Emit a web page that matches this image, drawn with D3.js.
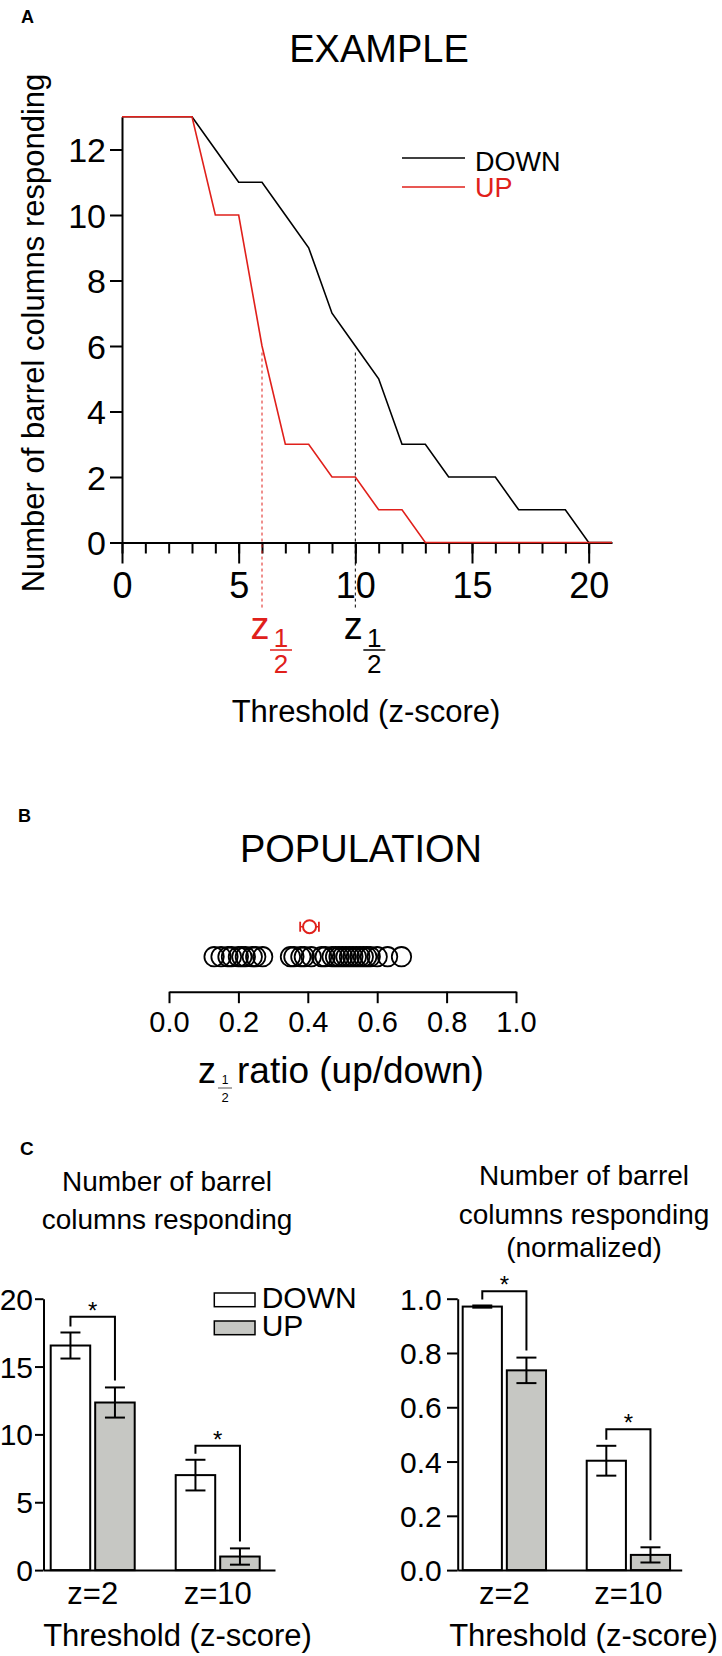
<!DOCTYPE html>
<html><head><meta charset="utf-8">
<script src="https://cdn.jsdelivr.net/npm/d3@7"></script>
<style>
body{margin:0;background:#fff}
text{font-family:"Liberation Sans",Arial,Helvetica,sans-serif}
</style>
</head><body>
<svg id="c" width="722" height="1656"></svg>
<script>
// ---------------- DATA ----------------
// Panel A: example barrel counts vs threshold
const exThreshold = [0,1,2,3,4,5,6,7,8,9,10,11,12,13,14,15,16,17,18,19,20,21];
const exDown = [13,13,13,13,12,11,11,10,9,7,6,5,3,3,2,2,2,1,1,1,0,0];
const exUp   = [13,13,13,13,10,10,6,3,3,2,2,1,1,0,0,0,0,0,0,0,0,0];
const exYTicks = [0,2,4,6,8,10,12];
const exXMinorTicks = [0,1,2,3,4,5,6,7,8,9,10,11,12,13,14,15,16,17,18,19,20];
const exXMajorTicks = [0,5,10,15,20];
const zHalfUp = 6, zHalfDown = 10, halfLevel = 6;
const exSeriesNames = ["DOWN","UP"];

// Panel B: population z1/2 ratio
const popRatios = [0.13,0.15,0.17,0.18,0.20,0.21,0.22,0.24,0.25,0.27,
                   0.35,0.36,0.38,0.39,0.41,0.44,0.45,0.47,0.48,0.49,0.50,
                   0.51,0.52,0.53,0.54,0.55,0.56,0.57,0.58,0.60,0.63,0.67];
const popMean = 0.405, popSem = 0.027;
const popTicks = [0,0.2,0.4,0.6,0.8,1.0];

// Panel C: bars
const thrCats = ["z=2","z=10"];
const barSeries = ["DOWN","UP"];
const countDown = [16.55, 7.0],  countDownErr = [0.96, 1.13];
const countUp   = [12.35, 1.0],  countUpErr   = [1.11, 0.6];
const countBracket = [18.67, 9.17];
const countTicks = [0,5,10,15,20];
const normDown = [0.971, 0.403], normDownErr = [0.004, 0.055];
const normUp   = [0.736, 0.056], normUpErr   = [0.047, 0.028];
const normBracket = [1.027, 0.519];
const normTicks = [0,0.2,0.4,0.6,0.8,1.0];

// ---------------- DRAW ----------------
const RED = "#e0201b", GRAY = "#c6c7c3";
const svg = d3.select("#c");

function styleAxis(g, fs){
  g.attr("font-family", null).attr("font-size", null);
  g.selectAll(".domain, .tick line").attr("stroke","#000").attr("stroke-width",2);
  g.selectAll("text").attr("fill","#000").style("font-size", fs+"px");
}
function label(g, x, y, txt, opts={}){
  const t = g.append("text").attr("x",x).attr("y",y)
    .attr("text-anchor", opts.anchor||"middle").style("font-size",(opts.fs||20)+"px")
    .attr("fill", opts.fill||"#000").text(txt);
  if (opts.bold) t.style("font-weight","bold");
  return t;
}

// ===== Panel A =====
const gA = svg.append("g");
const xA = d3.scaleLinear().domain([0,21]).range([122,612]);
const yA = d3.scaleLinear().domain([0,13]).range([542.5,116.75]);

label(gA, 21, 23, "A", {fs:18, bold:true, anchor:"start"});
label(gA, 379, 62, "EXAMPLE", {fs:38});

const yAxA = gA.append("g").attr("transform",`translate(${xA(0)},0)`)
  .call(d3.axisLeft(yA).tickValues(exYTicks).tickSize(12).tickSizeOuter(0));
styleAxis(yAxA, 34);
yAxA.selectAll("text").attr("x",-16).attr("dy",0).attr("y",12);

const xMinA = gA.append("g").attr("transform",`translate(0,${yA(0)})`)
  .call(d3.axisBottom(xA).tickValues(exXMinorTicks).tickSize(11).tickSizeOuter(0).tickFormat(""));
styleAxis(xMinA, 36);
const xMajA = gA.append("g").attr("transform",`translate(0,${yA(0)})`)
  .call(d3.axisBottom(xA).tickValues(exXMajorTicks).tickSize(21).tickSizeOuter(0));
styleAxis(xMajA, 36);
xMajA.select(".domain").remove();
xMajA.selectAll("text").attr("dy",0).attr("y",55.5);

// dashed half-max lines
const halfs = [{z:zHalfUp, c:RED},{z:zHalfDown, c:"#000"}];
gA.selectAll(".half").data(halfs).join("line")
  .attr("x1",d=>xA(d.z)).attr("x2",d=>xA(d.z))
  .attr("y1",yA(halfLevel-0.2)).attr("y2",yA(-2))
  .attr("stroke",d=>d.c).attr("stroke-width",1).attr("stroke-dasharray","3,3");

const lineA = d3.line().x((d,i)=>xA(exThreshold[i])).y(d=>yA(d));
gA.append("path").attr("d",lineA(exDown)).attr("fill","none").attr("stroke","#000").attr("stroke-width",1.6);
gA.append("path").attr("d",lineA(exUp)).attr("fill","none").attr("stroke",RED).attr("stroke-width",1.6);

// legend
const legA = [{n:exSeriesNames[0], c:"#000", y:158, b:171},{n:exSeriesNames[1], c:RED, y:187, b:197}];
legA.forEach(d=>{
  gA.append("line").attr("x1",402).attr("x2",465).attr("y1",d.y).attr("y2",d.y).attr("stroke",d.c).attr("stroke-width",1.6);
  label(gA, 475, d.b, d.n, {fs:27, anchor:"start", fill:d.c});
});

// z 1/2 labels under the axis
function zHalf(g, xz, col){
  label(g, xz-2, 639, "z", {fs:38, fill:col});
  const fx = xz + 19;
  label(g, fx, 647, "1", {fs:26, fill:col});
  g.append("line").attr("x1",fx-11).attr("x2",fx+11).attr("y1",650).attr("y2",650).attr("stroke",col).attr("stroke-width",1.5);
  label(g, fx, 673, "2", {fs:26, fill:col});
}
zHalf(gA, xA(zHalfUp), RED);
zHalf(gA, xA(zHalfDown), "#000");

label(gA, 366, 722, "Threshold (z-score)", {fs:31});
gA.append("text").attr("transform","translate(44,333) rotate(-90)")
  .attr("text-anchor","middle").style("font-size","31px").text("Number of barrel columns responding");

// ===== Panel B =====
const gB = svg.append("g");
const xB = d3.scaleLinear().domain([0,1]).range([169,516]);
label(gB, 18, 822, "B", {fs:18, bold:true, anchor:"start"});
label(gB, 361, 862, "POPULATION", {fs:38});

const xAxB = gB.append("g").attr("transform","translate(0,991.7)")
  .call(d3.axisBottom(xB).tickValues(popTicks).tickFormat(d3.format(".1f")).tickSize(11.5).tickSizeOuter(0));
styleAxis(xAxB, 29);
xAxB.selectAll("text").attr("dy",0).attr("y",40.3);

gB.selectAll(".pc").data(popRatios).join("circle")
  .attr("cx",d=>xB(d)).attr("cy",956.7).attr("r",9.7)
  .attr("fill","none").attr("stroke","#000").attr("stroke-width",1.8);

const mY = 926.7;
gB.append("line").attr("x1",xB(popMean-popSem)).attr("x2",xB(popMean+popSem)).attr("y1",mY).attr("y2",mY).attr("stroke",RED).attr("stroke-width",1.5);
[popMean-popSem, popMean+popSem].forEach(v=>{
  gB.append("line").attr("x1",xB(v)).attr("x2",xB(v)).attr("y1",mY-5).attr("y2",mY+5).attr("stroke",RED).attr("stroke-width",1.8);
});
gB.append("circle").attr("cx",xB(popMean)).attr("cy",mY).attr("r",6.5).attr("fill","#fff").attr("stroke",RED).attr("stroke-width",2);

// axis label z1/2 ratio
label(gB, 198, 1083, "z", {fs:36, anchor:"start"});
label(gB, 225, 1084, "1", {fs:12});
gB.append("line").attr("x1",218).attr("x2",232).attr("y1",1088).attr("y2",1088).attr("stroke","#555").attr("stroke-width",1);
label(gB, 225, 1102, "2", {fs:13});
label(gB, 237, 1083, "ratio (up/down)", {fs:37, anchor:"start"});

// ===== Panel C =====
const gC = svg.append("g");
label(gC, 20, 1155, "C", {fs:19, bold:true, anchor:"start"});

function barPanel(cfg){
  const g = gC.append("g");
  const y = d3.scaleLinear().domain(cfg.yDomain).range([1570.1, 1298.7]);
  const x = d3.scaleBand().domain(thrCats).range(cfg.xRange)
    .paddingInner(0.328).paddingOuter(cfg.po).align(cfg.align);
  const xs = d3.scaleBand().domain(barSeries).range([0, x.bandwidth()]).paddingInner(0.112);

  cfg.title.forEach((t,i)=> label(g, cfg.titleX, cfg.titleY[i], t, {fs:28}));

  const yAx = g.append("g").attr("transform",`translate(${cfg.xRange[0]},0)`)
    .call(d3.axisLeft(y).tickValues(cfg.ticks).tickFormat(cfg.fmt).tickSize(cfg.tick).tickSizeOuter(0));
  styleAxis(yAx, 30);
  yAx.selectAll("text").attr("x",-cfg.labX).attr("dy",0).attr("y",10.5);

  const rows = thrCats.map((c,i)=>({c, vals:[
    {s:"DOWN", v:cfg.down[i], e:cfg.downErr[i]},
    {s:"UP", v:cfg.up[i], e:cfg.upErr[i]}], br:cfg.bracket[i]}));

  const grp = g.selectAll(".grp").data(rows).join("g").attr("transform",d=>`translate(${x(d.c)},0)`);
  grp.selectAll("rect").data(d=>d.vals).join("rect")
    .attr("x",d=>xs(d.s)).attr("width",xs.bandwidth())
    .attr("y",d=>y(d.v)).attr("height",d=>y(0)-y(d.v))
    .attr("fill",d=>d.s==="DOWN"?"#fff":GRAY).attr("stroke","#000").attr("stroke-width",2);
  grp.each(function(d){
    const gg = d3.select(this);
    d.vals.forEach(b=>{
      const cx = xs(b.s) + xs.bandwidth()/2, hw = 10;
      gg.append("line").attr("x1",cx).attr("x2",cx).attr("y1",y(b.v+b.e)).attr("y2",y(b.v-b.e)).attr("stroke","#000").attr("stroke-width",2);
      [b.v+b.e, b.v-b.e].forEach(v=> gg.append("line").attr("x1",cx-hw).attr("x2",cx+hw).attr("y1",y(v)).attr("y2",y(v)).attr("stroke","#000").attr("stroke-width",2));
    });
    const c1 = xs("DOWN") + xs.bandwidth()/2, c2 = xs("UP") + xs.bandwidth()/2;
    const by = y(d.br);
    const t1 = y(d.vals[0].v + d.vals[0].e) - 6, t2 = y(d.vals[1].v + d.vals[1].e) - 7;
    gg.append("path").attr("d",`M${c1},${t1}V${by}H${c2}V${t2}`).attr("fill","none").attr("stroke","#000").attr("stroke-width",2);
    gg.append("text").attr("x",(c1+c2)/2).attr("y",by+2).attr("text-anchor","middle").style("font-size","24px").text("*");
  });

  const xAx = g.append("g").attr("transform",`translate(0,${y(0)})`)
    .call(d3.axisBottom(x).tickSize(0).tickSizeOuter(0));
  styleAxis(xAx, 31);
  xAx.selectAll("text").attr("dy",0).attr("y",34.3);

  label(g, cfg.xLabX, 1646, "Threshold (z-score)", {fs:31});
  return {g, x, xs, y};
}

barPanel({
  yDomain:[0,20], xRange:[43.5,275], po:0.09, align:0.32,
  ticks:countTicks, fmt:d3.format("d"), tick:8.5, labX:10.5,
  down:countDown, downErr:countDownErr, up:countUp, upErr:countUpErr, bracket:countBracket,
  title:["Number of barrel","columns responding"], titleX:167, titleY:[1191,1229], xLabX:177.5
});
barPanel({
  yDomain:[0,1], xRange:[457.7,681.7], po:0.067, align:0.3,
  ticks:normTicks, fmt:d3.format(".1f"), tick:10.7, labX:16,
  down:normDown, downErr:normDownErr, up:normUp, upErr:normUpErr, bracket:normBracket,
  title:["Number of barrel","columns responding","(normalized)"], titleX:584, titleY:[1184.6,1223.6,1256.8], xLabX:583.5
});

// legend for C
const legC = [{n:barSeries[0], f:"#fff", y:1293, b:1308},{n:barSeries[1], f:GRAY, y:1321, b:1335.5}];
legC.forEach(d=>{
  gC.append("rect").attr("x",214.3).attr("y",d.y).attr("width",40.7).attr("height",13.7)
    .attr("fill",d.f).attr("stroke","#000").attr("stroke-width",1.5);
  label(gC, 261.7, d.b, d.n, {fs:30, anchor:"start"});
});
</script>
</body></html>
